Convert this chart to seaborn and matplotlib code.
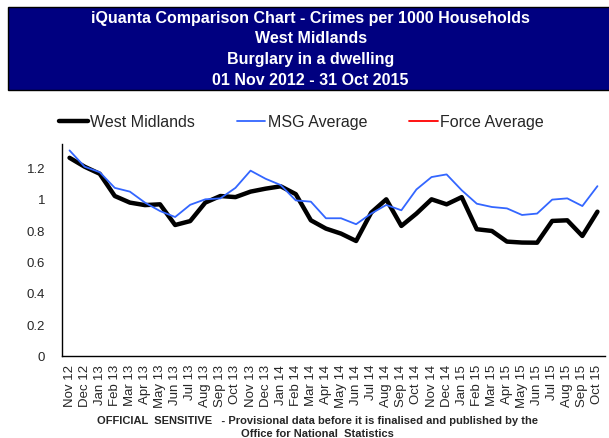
import matplotlib
matplotlib.use("Agg")
import matplotlib.pyplot as plt
import seaborn as sns
import pandas as pd
from matplotlib.patches import Rectangle

months = ["Nov 12", "Dec 12", "Jan 13", "Feb 13", "Mar 13", "Apr 13", "May 13", "Jun 13",
          "Jul 13", "Aug 13", "Sep 13", "Oct 13", "Nov 13", "Dec 13", "Jan 14", "Feb 14",
          "Mar 14", "Apr 14", "May 14", "Jun 14", "Jul 14", "Aug 14", "Sep 14", "Oct 14",
          "Nov 14", "Dec 14", "Jan 15", "Feb 15", "Mar 15", "Apr 15", "May 15", "Jun 15",
          "Jul 15", "Aug 15", "Sep 15", "Oct 15"]

west_midlands = [1.262, 1.205, 1.16, 1.018, 0.976, 0.96, 0.965, 0.833, 0.858, 0.976,
                 1.018, 1.011, 1.046, 1.065, 1.08, 1.03, 0.863, 0.81, 0.778, 0.731,
                 0.912, 0.997, 0.827, 0.906, 0.997, 0.965, 1.011, 0.806, 0.795, 0.727,
                 0.721, 0.72, 0.859, 0.863, 0.763, 0.918]

msg_average = [1.309, 1.205, 1.17, 1.07, 1.046, 0.976, 0.922, 0.884, 0.962, 0.997,
               1.003, 1.07, 1.18, 1.128, 1.088, 0.99, 0.982, 0.876, 0.876, 0.838,
               0.906, 0.961, 0.927, 1.06, 1.139, 1.156, 1.055, 0.969, 0.948, 0.939,
               0.897, 0.906, 0.995, 1.003, 0.954, 1.081]

# force average has no values in this chart, only a legend entry
force_average = [None] * len(months)

df = pd.DataFrame({"idx": range(len(months)), "wm": west_midlands,
                   "msg": msg_average, "force": force_average})

sns.set_style("white")
plt.rcParams["font.family"] = ["Liberation Sans", "DejaVu Sans"]

fig = plt.figure(figsize=(6.09, 4.39), dpi=100)
ax = fig.add_axes([0.1018, 0.1879, 0.8916, 0.4818])

sns.lineplot(data=df, x="idx", y="wm", color="black", linewidth=3.2, ax=ax, label="West Midlands")
sns.lineplot(data=df, x="idx", y="msg", color="#3366ff", linewidth=1.3, ax=ax, label="MSG Average")
ax.plot([], [], color="red", linewidth=1.3, label="Force Average")

ax.set_xlim(-0.5, len(months) - 0.5)
ax.set_ylim(0, 1.35)
ax.set_yticks([0, 0.2, 0.4, 0.6, 0.8, 1.0, 1.2])
ax.set_yticklabels(["0", "0.2", "0.4", "0.6", "0.8", "1", "1.2"], fontsize=9.5)
ax.set_xticks(range(len(months)))
ax.set_xticklabels(months, rotation=90, fontsize=9.5)
ax.set_xticks([i - 0.5 for i in range(len(months) + 1)], minor=True)
ax.tick_params(axis="x", which="major", length=0, pad=6)
ax.tick_params(axis="x", which="minor", length=4, width=1, color="black", direction="out")
ax.tick_params(axis="y", length=4, width=1, color="black", direction="out", pad=8)
ax.set_xlabel("")
ax.set_ylabel("")
for side in ["top", "right"]:
    ax.spines[side].set_visible(False)
for side in ["left", "bottom"]:
    ax.spines[side].set_color("black")
    ax.spines[side].set_linewidth(1)

handles, labels = ax.get_legend_handles_labels()
ax.get_legend().remove()
fig.legend(handles, labels, loc="center", bbox_to_anchor=(0.495, 0.72), ncol=3,
           frameon=False, fontsize=11.5, handlelength=1.8, handletextpad=0.15,
           columnspacing=2.6)

# title banner
fig.patches.append(Rectangle((8 / 609, 1 - 91 / 439), 1, 83 / 439, transform=fig.transFigure,
                             facecolor="#000080", edgecolor="black", linewidth=1))
title_lines = ["iQuanta Comparison Chart - Crimes per 1000 Households", "West Midlands",
               "Burglary in a dwelling", "01 Nov 2012 - 31 Oct 2015"]
for i, line in enumerate(title_lines):
    fig.text(0.51, 1 - (18 + 20.7 * i) / 439, line, ha="center", va="center",
             color="white", fontsize=11.5, fontweight="bold")

fig.text(0.521, 1 - 421 / 439,
         "OFFICIAL  SENSITIVE   - Provisional data before it is finalised and published by the",
         ha="center", va="center", fontsize=8, fontweight="bold")
fig.text(0.521, 1 - 434 / 439, "Office for National  Statistics",
         ha="center", va="center", fontsize=8, fontweight="bold")

fig.savefig("out.png", dpi=100)
